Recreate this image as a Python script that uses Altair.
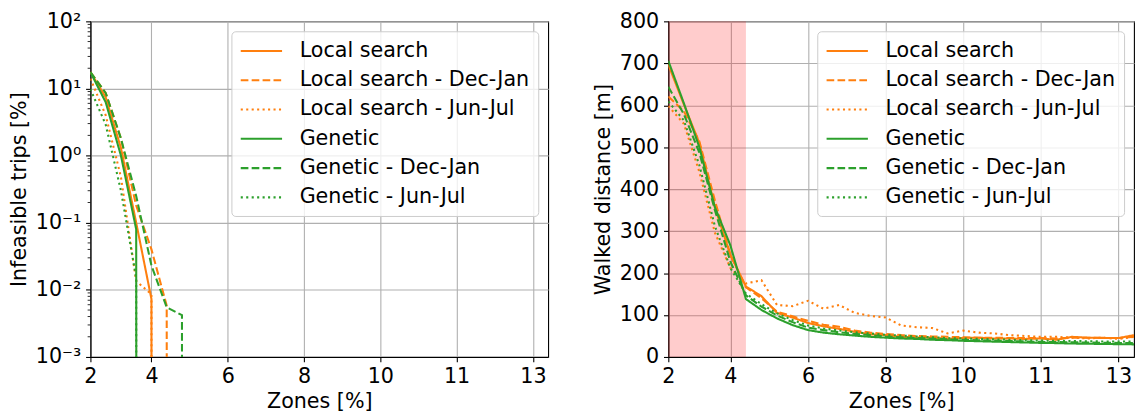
import json
import altair as alt
import pandas as pd

# ---------------- data ----------------
x_steps = [0, 1, 2, 3, 4, 5, 6, 7, 8, 9, 10, 11, 12, 13, 14, 15, 16, 17, 18, 19, 20,
           21, 22, 23, 24, 25, 26, 27, 28, 29, 30]
tick_steps = [0, 4, 9, 14, 19, 24, 29]
tick_labels = ["2", "4", "6", "8", "10", "11", "13"]

series_names = ["Local search", "Local search - Dec-Jan", "Local search - Jun-Jul",
                "Genetic", "Genetic - Dec-Jan", "Genetic - Jun-Jul"]
series_colors = ["#ff7f0e", "#ff7f0e", "#ff7f0e", "#2ca02c", "#2ca02c", "#2ca02c"]
series_dashes = [[1, 0], [7.7, 3.3], [2.1, 3.4], [1, 0], [7.7, 3.3], [2.1, 3.4]]

# Infeasible trips [%] (0 = no infeasible trips)
inf_ls = [17.5, 7.4, 1.3, 0.1, 0.0073] + [0] * 26
inf_ls_dec = [17.5, 8.6, 1.8, 0.18, 0.04, 0.0058] + [0] * 25
inf_ls_jun = [14.0, 4.0, 0.48, 0.0135, 0.0086] + [0] * 26
inf_gen = [17.5, 6.25, 1.0, 0.08] + [0] * 27
inf_gen_dec = [17.5, 8.6, 1.8, 0.25, 0.023, 0.0055, 0.0042] + [0] * 24
inf_gen_jun = [9.8, 2.9, 0.3, 0.015] + [0] * 27

# Walked distance [m]
walk_ls = [697, 602, 510, 357, 243, 168, 145, 105, 94, 81, 73, 67, 60, 54, 52, 48, 46.5, 46,
           43, 45.5, 46, 44, 44, 43, 44, 41, 48, 46, 45.5, 45, 52]
walk_ls_dec = [621, 586, 514, 373, 243, 166, 140, 108, 97, 86, 77, 72, 63, 58, 55, 52, 50, 49,
               48, 47, 46, 46, 45, 45, 45, 44, 46, 46, 45, 45, 48]
walk_ls_jun = [598, 556, 441, 296, 212, 175, 183, 124, 121, 134, 115, 124, 105, 98, 94, 75, 71,
               69, 56, 63, 58, 56, 52, 50, 48, 48, 46, 44, 46, 43, 48]
walk_gen = [706, 605, 500, 357, 266, 138, 112, 92, 76, 64, 58, 54, 51, 48, 46, 44, 43, 41, 40,
            38.5, 37.5, 36.5, 35.5, 34.5, 33.5, 33, 32, 31.5, 31, 30.5, 30]
walk_gen_dec = [644, 579, 487, 350, 227, 147, 120, 99, 83, 70, 64, 59, 55, 52, 49, 47, 45, 44,
                42, 41, 40, 39, 38, 37, 36, 35.5, 35, 34.5, 34, 33.5, 33]
walk_gen_jun = [609, 564, 457, 312, 212, 151, 126, 104, 88, 75, 68, 63, 59, 56, 53, 51, 49, 47,
                45, 44, 43, 42, 41, 40, 39, 38.5, 38, 37.5, 37, 37, 36.5]

shade_from = [0]
shade_to = [5]

log_major = [1e-3, 1e-2, 1e-1, 1e0, 1e1, 1e2]
log_minor = [2e-3, 3e-3, 4e-3, 5e-3, 6e-3, 7e-3, 8e-3, 9e-3,
             2e-2, 3e-2, 4e-2, 5e-2, 6e-2, 7e-2, 8e-2, 9e-2,
             2e-1, 3e-1, 4e-1, 5e-1, 6e-1, 7e-1, 8e-1, 9e-1,
             2e0, 3e0, 4e0, 5e0, 6e0, 7e0, 8e0, 9e0,
             2e1, 3e1, 4e1, 5e1, 6e1, 7e1, 8e1, 9e1]
walk_ticks = [0, 100, 200, 300, 400, 500, 600, 700, 800]

# ---------------- tables ----------------
inf_series = [inf_ls, inf_ls_dec, inf_ls_jun, inf_gen, inf_gen_dec, inf_gen_jun]
walk_series = [walk_ls, walk_ls_dec, walk_ls_jun, walk_gen, walk_gen_dec, walk_gen_jun]

inf_rows, walk_rows = [], []
for name, ys in zip(series_names, inf_series):
    for x, y in zip(x_steps, ys):
        inf_rows.append({"step": x, "raw": y, "series": name})
for name, ys in zip(series_names, walk_series):
    for x, y in zip(x_steps, ys):
        walk_rows.append({"step": x, "v": y, "series": name})
inf_df = pd.DataFrame(inf_rows)
walk_df = pd.DataFrame(walk_rows)
minor_df = pd.DataFrame({"v": log_minor})
shade_df = pd.DataFrame({"a": shade_from, "b": shade_to})

# ---------------- style ----------------
FONT = "DejaVu Sans"
FS = 20.8
LW = 2.08
W_L, H_L = 461, 338
W_R, H_R = 469, 338

lab_arr = [""] * len(x_steps)
for s, l in zip(tick_steps, tick_labels):
    lab_arr[s] = l
x_label_expr = json.dumps(lab_arr, ensure_ascii=False) + "[round(datum.value)]"
sup_labels = ["10\u207b\u00b3", "10\u207b\u00b2", "10\u207b\u00b9", "10\u2070", "10\u00b9", "10\u00b2"]
y_label_expr = json.dumps(sup_labels, ensure_ascii=False) + "[round(log(datum.value)/LN10)+3]"

x_scale = alt.Scale(domain=[0, 30], nice=False, zero=False)
x_axis = alt.Axis(values=tick_steps, labelExpr=x_label_expr, title="Zones [%]")


def legend():
    return alt.Legend(title=None, orient="top-right", offset=10.4, padding=8.3,
                      rowPadding=7.5, symbolType="M-1,0L3,0", symbolSize=433,
                      symbolStrokeWidth=LW, labelFontSize=FS, labelFont=FONT,
                      labelColor="black", labelOffset=37.4, labelLimit=500,
                      fillColor="rgba(255,255,255,0.8)", strokeColor="#cccccc",
                      cornerRadius=4)


color = alt.Color("series:N", sort=series_names,
                  scale=alt.Scale(domain=series_names, range=series_colors), legend=legend())
dash = alt.StrokeDash("series:N", sort=series_names,
                      scale=alt.Scale(domain=series_names, range=series_dashes), legend=legend())

# ---------------- left panel ----------------
y_log = alt.Scale(type="log", domain=[1e-3, 1e2], nice=False)
left_lines = alt.Chart(inf_df).transform_calculate(
    v="max(datum.raw, 1e-300)"
).mark_line(strokeWidth=LW, clip=True, strokeCap="butt").encode(
    x=alt.X("step:Q", scale=x_scale, axis=x_axis),
    y=alt.Y("v:Q", scale=y_log,
            axis=alt.Axis(values=log_major, labelExpr=y_label_expr),
            title="Infeasible trips [%]"),
    color=color, strokeDash=dash, order="step:Q",
)
left_minor = alt.Chart(minor_df).mark_rule(color="black", strokeWidth=0.83).encode(
    y=alt.Y("v:Q", scale=y_log, title="Infeasible trips [%]"),
    x=alt.value(0), x2=alt.value(-2.8),
)
left = alt.layer(left_lines, left_minor).properties(width=W_L, height=H_L)

# ---------------- right panel ----------------
shade = alt.Chart(shade_df).mark_rect(color="red", opacity=0.2).encode(
    x=alt.X("a:Q", scale=x_scale, axis=x_axis), x2="b:Q",
    y=alt.value(0), y2=alt.value(H_R),
)
right_lines = alt.Chart(walk_df).mark_line(strokeWidth=LW, clip=True, strokeCap="butt").encode(
    x=alt.X("step:Q", scale=x_scale, axis=x_axis),
    y=alt.Y("v:Q", scale=alt.Scale(domain=[0, 800], nice=False),
            axis=alt.Axis(values=walk_ticks), title="Walked distance [m]"),
    color=color, strokeDash=dash, order="step:Q",
)
right = alt.layer(shade, right_lines).properties(width=W_R, height=H_R)

chart = alt.hconcat(left, right, spacing=43).resolve_legend(
    color="independent", strokeDash="independent"
).properties(padding=0).configure_view(
    stroke="black", strokeWidth=1.1
).configure_axis(
    labelFont=FONT, labelFontSize=FS, labelColor="black",
    titleFont=FONT, titleFontSize=FS, titleFontWeight="normal", titleColor="black",
    titlePadding=5.6, labelPadding=4.86,
    tickSize=4.86, tickWidth=1.1, tickColor="black",
    domainColor="black", domainWidth=1.1,
    grid=True, gridColor="#b0b0b0", gridWidth=1.1,
).configure_axisX(labelFlush=False)

chart.save("out.html", embed_options={"renderer": "svg", "actions": False})
